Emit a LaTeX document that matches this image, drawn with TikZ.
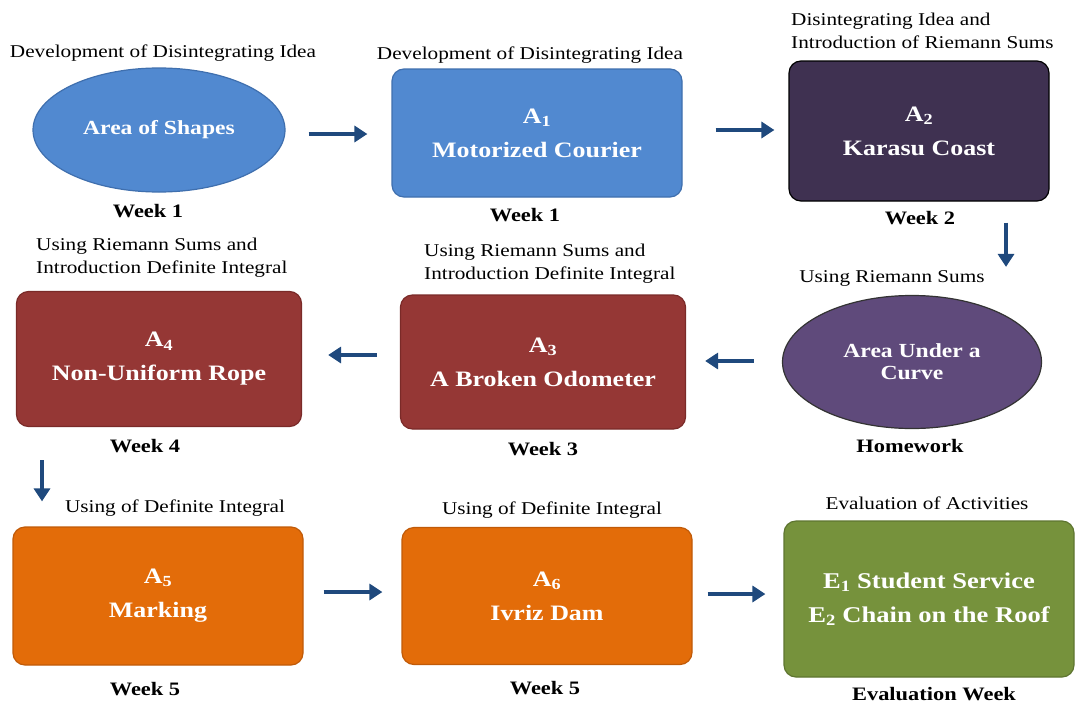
\documentclass[tikz,border=0pt]{standalone}
\usepackage{fontspec}
\setmainfont[FakeStretch=1.18]{Liberation Serif}
\usetikzlibrary{shapes.geometric,arrows.meta}
\definecolor{cblue}{HTML}{5189D0}
\definecolor{cblueb}{HTML}{3F6FAE}
\definecolor{cdpur}{HTML}{3F3151}
\definecolor{clpur}{HTML}{5F4A7B}
\definecolor{cred}{HTML}{953735}
\definecolor{credb}{HTML}{7A2A28}
\definecolor{corg}{HTML}{E36C09}
\definecolor{corgb}{HTML}{C05A08}
\definecolor{cgrn}{HTML}{76923C}
\definecolor{cgrnb}{HTML}{5E7530}
\definecolor{carr}{HTML}{1F497D}
\tikzset{
  box/.style={rectangle, rounded corners=12pt, inner sep=0pt, align=center,
    text=white, font=\bfseries\fontsize{22}{34}\selectfont, line width=1.2pt},
  oval/.style={ellipse, inner sep=0pt, align=center, text=white,
    font=\bfseries\fontsize{20}{22}\selectfont, line width=1.2pt},
  lab/.style={font=\fontsize{18}{23}\selectfont, inner sep=0pt},
  wk/.style={font=\bfseries\fontsize{19}{22}\selectfont, inner sep=0pt},
  arr/.style={draw=carr, line width=4.5pt, -{Triangle[width=16pt,length=13pt]}},
}
\begin{document}
\begin{tikzpicture}[x=1pt,y=-1pt]
\useasboundingbox (0,0) rectangle (1075,704);
% shapes
\node[oval, fill=cblue, draw=cblueb, minimum width=252pt, minimum height=124pt] (shp) at (159,130) {Area of Shapes};
\node[box, fill=cblue, draw=cblueb, minimum width=290pt, minimum height=128pt] (a1) at (537,133) {A\textsubscript{1}\\Motorized Courier};
\node[box, fill=cdpur, draw=black, minimum width=260pt, minimum height=140pt] (a2) at (919,131) {A\textsubscript{2}\\Karasu Coast};
\node[oval, fill=clpur, draw=black!80, minimum width=259pt, minimum height=133pt] (auc) at (912,362) {Area Under a\\Curve};
\node[box, fill=cred, draw=credb, minimum width=285pt, minimum height=134pt] (a3) at (543,362) {A\textsubscript{3}\\A Broken Odometer};
\node[box, fill=cred, draw=credb, minimum width=285pt, minimum height=135pt] (a4) at (159,359) {A\textsubscript{4}\\Non-Uniform Rope};
\node[box, fill=corg, draw=corgb, minimum width=290pt, minimum height=138pt] (a5) at (158,596) {A\textsubscript{5}\\Marking};
\node[box, fill=corg, draw=corgb, minimum width=290pt, minimum height=137pt] (a6) at (547,596) {A\textsubscript{6}\\Ivriz Dam};
\node[box, fill=cgrn, draw=cgrnb, minimum width=290pt, minimum height=156pt, font=\bfseries\fontsize{22.5}{34}\selectfont] (ev) at (929,599) {E\textsubscript{1} Student Service\\E\textsubscript{2} Chain on the Roof};
% top labels
\node[lab] (l0) at (163,53) {Development of Disintegrating Idea};
\node[lab] (l1) at (530,55) {Development of Disintegrating Idea};
\node[lab, align=left, anchor=west] (l2) at (791,31) {Disintegrating Idea and\\Introduction of Riemann Sums};
\node[lab] (l3) at (892,278) {Using Riemann Sums};
\node[lab, align=left, anchor=west] (l4) at (424,264) {Using Riemann Sums and\\Introduction Definite Integral};
\node[lab, align=left, anchor=west] (l5) at (36,258) {Using Riemann Sums and\\Introduction Definite Integral};
\node[lab] (l6) at (175,508) {Using of Definite Integral};
\node[lab] (l7) at (552,510) {Using of Definite Integral};
\node[lab] (l8) at (927,503) {Evaluation of Activities};
% bottom labels
\node[wk] (w0) at (148,211) {Week 1};
\node[wk] (w1) at (525,215) {Week 1};
\node[wk] (w2) at (920,218) {Week 2};
\node[wk] (w3) at (910,446) {Homework};
\node[wk] (w4) at (543,449) {Week 3};
\node[wk] (w5) at (145,446) {Week 4};
\node[wk] (w6) at (145,689) {Week 5};
\node[wk] (w7) at (545,688) {Week 5};
\node[wk] (w8) at (934,694) {Evaluation Week};
% arrows
\draw[arr, shorten <=23pt, shorten >=24pt] (shp.east |- 0,134) -- (a1.west |- 0,134);
\draw[arr, shorten <=33pt, shorten >=14pt] (a1.east |- 0,130) -- (a2.west |- 0,130);
\draw[arr, shorten <=21pt, shorten >=28pt] (a2.south -| 1006,0) -- (auc.north -| 1006,0);
\draw[arr, shorten <=28pt, shorten >=19pt] (auc.west |- 0,361) -- (a3.east |- 0,361);
\draw[arr, shorten <=23pt, shorten >=26pt] (a3.west |- 0,355) -- (a4.east |- 0,355);
\draw[arr, shorten <=33pt, shorten >=25pt] (a4.south -| 42,0) -- (a5.north -| 42,0);
\draw[arr, shorten <=20pt, shorten >=19pt] (a5.east |- 0,592) -- (a6.west |- 0,592);
\draw[arr, shorten <=15pt, shorten >=18pt] (a6.east |- 0,594) -- (ev.west |- 0,594);
\end{tikzpicture}
\end{document}
